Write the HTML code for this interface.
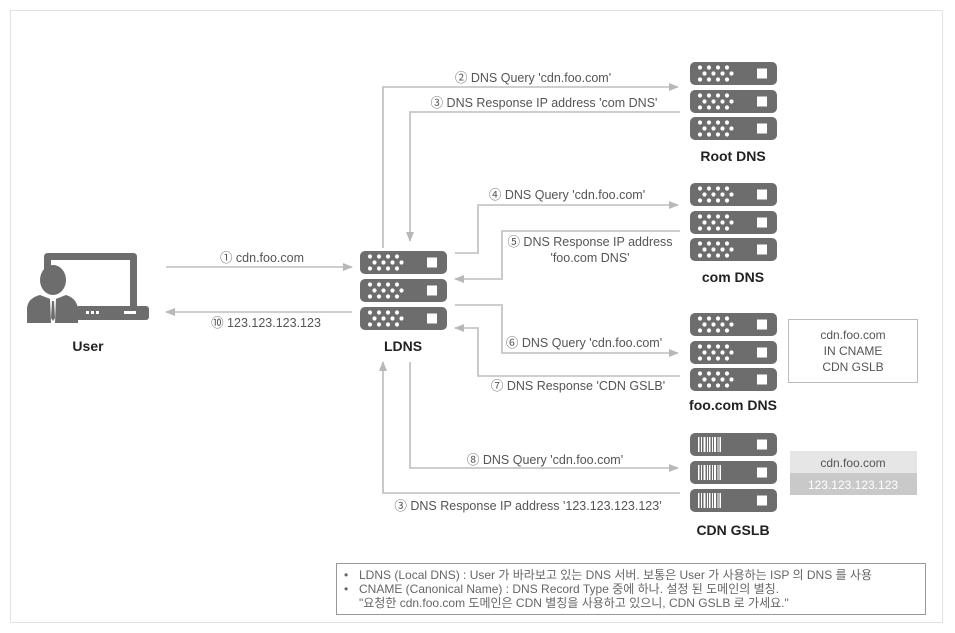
<!DOCTYPE html>
<html><head><meta charset="utf-8"><style>
html,body{margin:0;padding:0;background:#fff;}
svg{display:block;font-family:"Liberation Sans","Noto Sans CJK KR",sans-serif;}
</style></head><body>
<svg width="955" height="633" viewBox="0 0 955 633" xmlns="http://www.w3.org/2000/svg">
<defs>
<marker id="ah" markerWidth="10" markerHeight="8" refX="9" refY="4" orient="auto" markerUnits="userSpaceOnUse">
<path d="M0,0 L10,4 L0,8 Z" fill="#b8b8b8"/></marker>
<g id="srv">
<rect x="0" y="0" width="87" height="23" rx="5" fill="#6d6d6d"/>
<g fill="#fff">
<circle cx="10" cy="5.5" r="2.1"/><circle cx="19" cy="5.5" r="2.1"/><circle cx="28" cy="5.5" r="2.1"/><circle cx="37" cy="5.5" r="2.1"/>
<circle cx="14.5" cy="11.5" r="2.1"/><circle cx="23.5" cy="11.5" r="2.1"/><circle cx="32.5" cy="11.5" r="2.1"/><circle cx="41.5" cy="11.5" r="2.1"/>
<circle cx="10" cy="17.5" r="2.1"/><circle cx="19" cy="17.5" r="2.1"/><circle cx="28" cy="17.5" r="2.1"/><circle cx="37" cy="17.5" r="2.1"/>
<rect x="67" y="6.5" width="10" height="10"/></g></g>
<g id="bar">
<rect x="0" y="0" width="87" height="23" rx="5" fill="#6d6d6d"/>
<g fill="#fff">
<rect x="8" y="4" width="1.5" height="15"/><rect x="11" y="4" width="1" height="15"/><rect x="13.5" y="4" width="2" height="15"/><rect x="17" y="4" width="1" height="15"/><rect x="19" y="4" width="1.5" height="15"/><rect x="22" y="4" width="1" height="15"/><rect x="24" y="4" width="2" height="15"/><rect x="27.5" y="4" width="1" height="15"/><rect x="29.5" y="4" width="1.5" height="15"/>
<rect x="67" y="6.5" width="10" height="10"/></g></g>
</defs>
<rect x="10.5" y="10.5" width="932" height="612" fill="none" stroke="#e2e2e2"/>

<use href="#srv" x="360" y="251"/><use href="#srv" x="360" y="279"/><use href="#srv" x="360" y="307"/>
<use href="#srv" x="690" y="62"/><use href="#srv" x="690" y="90"/><use href="#srv" x="690" y="117"/>
<use href="#srv" x="690" y="183"/><use href="#srv" x="690" y="211"/><use href="#srv" x="690" y="238"/>
<use href="#srv" x="690" y="313"/><use href="#srv" x="690" y="341"/><use href="#srv" x="690" y="368"/>
<use href="#bar" x="690" y="433"/><use href="#bar" x="690" y="461"/><use href="#bar" x="690" y="489"/>

<g font-weight="bold" font-size="14" fill="#222" text-anchor="middle">
<text x="403" y="351">LDNS</text>
<text x="733" y="161">Root DNS</text>
<text x="733" y="282">com DNS</text>
<text x="733" y="410">foo.com DNS</text>
<text x="733" y="535">CDN GSLB</text>
<text x="88" y="351">User</text>
</g>

<g fill="#6d6d6d">
<path d="M44,270 V257 Q44,253 48,253 H133 Q137,253 137,257 V306 H130 V260 H51 V270 Z"/>
<rect x="76" y="306" width="73" height="14" rx="3"/>
<rect x="86" y="311" width="3" height="3" fill="#fff"/><rect x="91" y="311" width="3" height="3" fill="#fff"/><rect x="96" y="311" width="3" height="3" fill="#fff"/>
<rect x="124" y="311" width="12" height="3" fill="#fff"/>
<ellipse cx="53" cy="280" rx="13" ry="15"/>
<path d="M27,323 V308 Q28,298 40,295 L53,300 L66,295 Q76,298 78,308 V323 Z"/>
</g>
<path d="M50,298 L53,300 L56,298 L55,323 H51 Z" fill="#fff"/>
<path d="M52,301 L54,301 L55,318 L53,321 L51,318 Z" fill="#6d6d6d"/>

<g stroke="#bdbdbd" stroke-width="1.6" fill="none">
<path d="M166,267 H352" marker-end="url(#ah)"/>
<path d="M352,312 H166" marker-end="url(#ah)"/>
<path d="M383,248 V87 H678" marker-end="url(#ah)"/>
<path d="M680,112 H410 V241" marker-end="url(#ah)"/>
<path d="M455,253 H478 V205 H678" marker-end="url(#ah)"/>
<path d="M680,231 H502 V279 H455" marker-end="url(#ah)"/>
<path d="M455,305 H502 V353 H678" marker-end="url(#ah)"/>
<path d="M680,376 H478 V328 H455" marker-end="url(#ah)"/>
<path d="M410,362 V468 H678" marker-end="url(#ah)"/>
<path d="M680,493 H383 V362" marker-end="url(#ah)"/>
</g>

<g font-size="12.5" fill="#555" text-anchor="middle">
<text x="262" y="262">① cdn.foo.com</text>
<text x="266" y="327">⑩ 123.123.123.123</text>
<text x="533" y="82">② DNS Query 'cdn.foo.com'</text>
<text x="544" y="107">③ DNS Response IP address 'com DNS'</text>
<text x="567" y="199">④ DNS Query 'cdn.foo.com'</text>
<text x="590" y="246">⑤ DNS Response IP address</text>
<text x="590" y="262">'foo.com DNS'</text>
<text x="584" y="347">⑥ DNS Query 'cdn.foo.com'</text>
<text x="578" y="390">⑦ DNS Response 'CDN GSLB'</text>
<text x="545" y="464">⑧ DNS Query 'cdn.foo.com'</text>
<text x="528" y="510">③ DNS Response IP address '123.123.123.123'</text>
</g>

<rect x="788.5" y="319.5" width="129" height="63" fill="#fff" stroke="#bbb"/>
<g font-size="12" fill="#555" text-anchor="middle">
<text x="853" y="339">cdn.foo.com</text>
<text x="853" y="355">IN CNAME</text>
<text x="853" y="371">CDN GSLB</text>
</g>

<rect x="790" y="451" width="127" height="22" fill="#e6e6e6"/>
<rect x="790" y="473" width="127" height="22" fill="#c9c9c9"/>
<text x="853" y="467" font-size="12" fill="#555" text-anchor="middle">cdn.foo.com</text>
<text x="853" y="489" font-size="12" fill="#fff" text-anchor="middle">123.123.123.123</text>

<rect x="336.5" y="563.5" width="589" height="51" fill="#fff" stroke="#999"/>
<g font-size="12" fill="#666">
<text x="344" y="579">•</text>
<text x="359" y="579">LDNS (Local DNS) : User 가 바라보고 있는 DNS 서버. 보통은 User 가 사용하는 ISP 의 DNS 를 사용</text>
<text x="344" y="593">•</text>
<text x="359" y="593">CNAME (Canonical Name) : DNS Record Type 중에 하나. 설정 된 도메인의 별칭.</text>
<text x="359" y="607">"요청한 cdn.foo.com 도메인은 CDN 별칭을 사용하고 있으니, CDN GSLB 로 가세요."</text>
</g>
</svg>
</body></html>
